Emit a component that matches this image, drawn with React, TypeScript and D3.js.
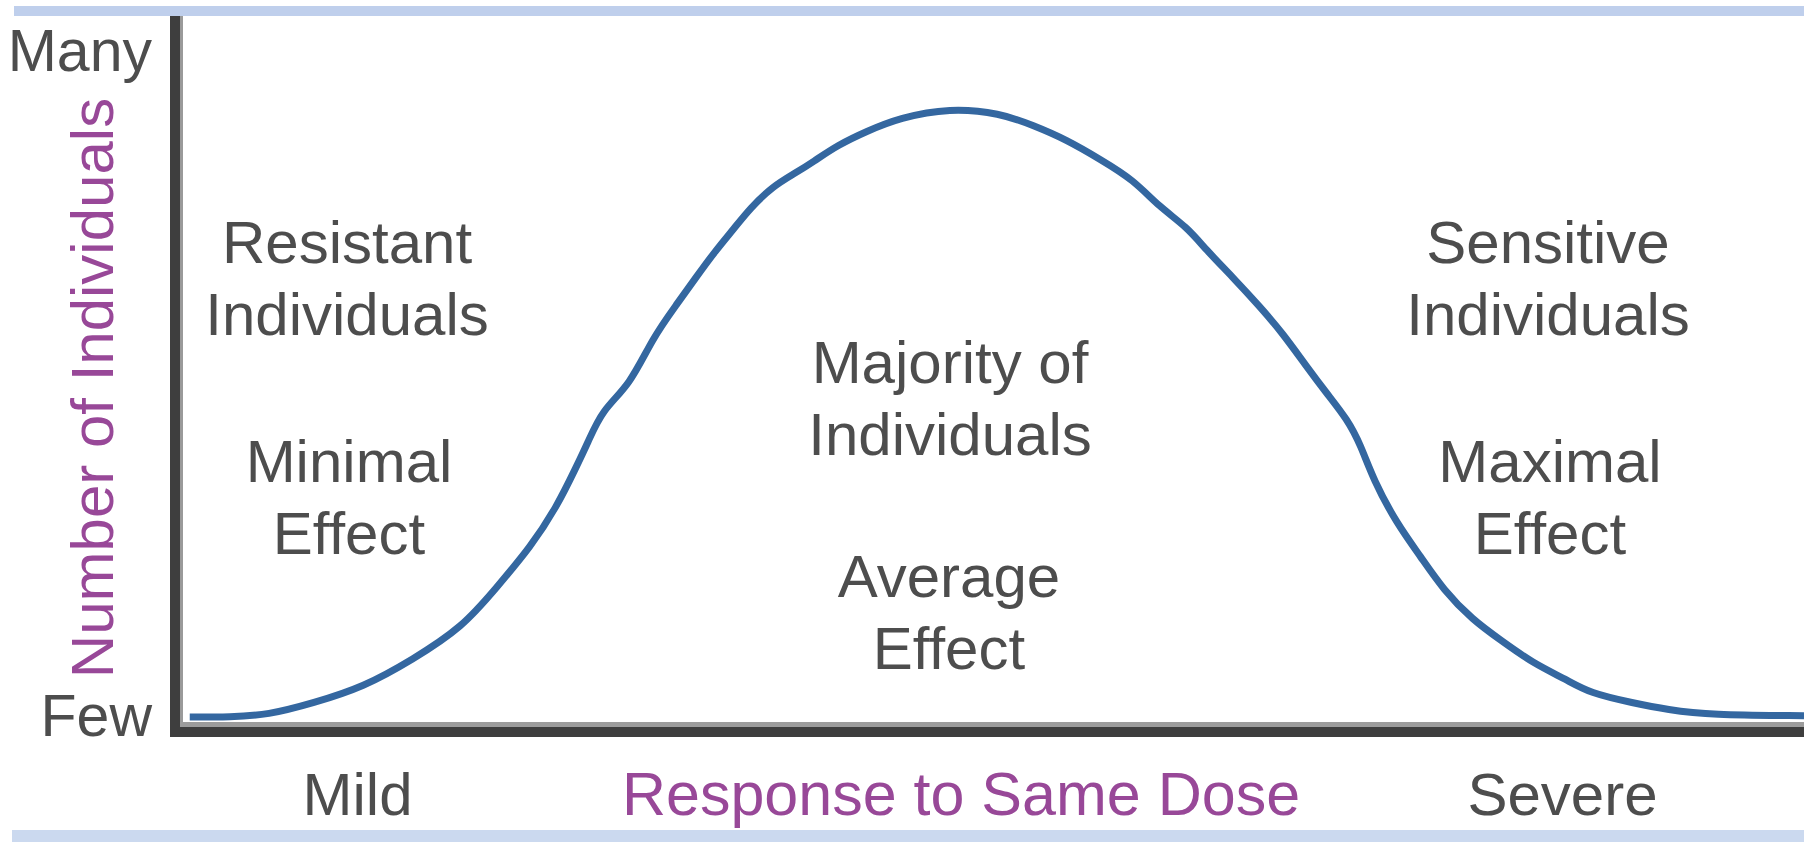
import { useEffect, useRef } from 'react';
import { select, scaleLinear, line, curveBasis, axisLeft, axisBottom } from 'd3';

// Response to dose (0 = mild, 100 = severe) vs number of individuals (0 = few, 100 = many)
const responseX = [
  0.6, 3.1, 5.4, 8.2, 11.3, 14.3, 17.4, 19.5, 21.6, 23.2, 24.4, 25.1, 26.0, 27.7, 29.1,
  30.6, 31.8, 33.0, 34.1, 35.1, 36.5, 37.9, 39.0, 40.5, 42.3, 44.3, 47.4, 50.5, 52.5, 54.6,
  56.7, 58.7, 60.3, 62.0, 63.2, 64.8, 66.5, 67.9, 69.4, 70.6, 71.9, 72.7, 73.5, 74.9,
  76.4, 77.8, 79.6, 81.3, 83.3, 85.4, 86.8, 89.5, 91.6, 94.2, 100,
];
const individualsY = [
  0, 0, 0.3, 2.1, 4.5, 8.6, 13.5, 19.5, 25.6, 31.6, 37.6, 41.2, 46.2, 49.9, 57.0,
  62.1, 66.2, 70.2, 73.4, 76.5, 79.8, 81.8, 83.5, 86.0, 88.1, 90.1, 91.6, 90.8, 89.0, 86.8,
  83.8, 80.8, 76.7, 73.7, 70.2, 66.2, 61.7, 57.7, 52.6, 48.7, 44.7, 40.9, 35.6, 29.2,
  24.1, 19.1, 14.6, 11.6, 8.1, 5.6, 3.6, 2.1, 1.1, 0.3, 0.2,
];

const yTickValues = [0, 100];
const yTickLabels = ['Few', 'Many'];
const xTickValues = [10.9, 85.1];
const xTickLabels = ['Mild', 'Severe'];

const annotations = [
  { lines: ['Resistant', 'Individuals'], x: 347, y: 263 },
  { lines: ['Minimal', 'Effect'], x: 349, y: 482 },
  { lines: ['Majority of', 'Individuals'], x: 950, y: 383 },
  { lines: ['Average', 'Effect'], x: 949, y: 597 },
  { lines: ['Sensitive', 'Individuals'], x: 1548, y: 263 },
  { lines: ['Maximal', 'Effect'], x: 1550, y: 482 },
];

const FONT = '"Liberation Sans", Arial, sans-serif';
const GRAY_TEXT = '#4d4d4d';
const PURPLE = '#984898';

export default function App() {
  const svgRef = useRef<SVGSVGElement>(null);

  useEffect(() => {
    if (!svgRef.current) return;
    const width = 1804;
    const height = 842;
    const svg = select(svgRef.current).attr('width', width).attr('height', height);
    svg.selectAll('*').remove();

    svg.append('rect').attr('width', width).attr('height', height).attr('fill', '#ffffff');

    // light blue frame bands
    svg.append('rect').attr('x', 14).attr('y', 6).attr('width', width - 14).attr('height', 10).attr('fill', '#bfcfec');
    svg.append('rect').attr('x', 12).attr('y', 830).attr('width', width - 12).attr('height', 12).attr('fill', '#cbd9ef');

    const axisX = 175;
    const axisY = 732;

    const xScale = scaleLinear().domain([0, 100]).range([180, width]);
    const yScale = scaleLinear().domain([0, 100]).range([717, 52]);

    // curve
    const data = responseX.map((x, i) => ({ x, y: individualsY[i] }));
    const path = line<{ x: number; y: number }>()
      .x((d) => xScale(d.x))
      .y((d) => yScale(d.y))
      .curve(curveBasis);

    svg.append('path')
      .datum(data)
      .attr('d', path)
      .attr('fill', 'none')
      .attr('stroke', '#3467a0')
      .attr('stroke-width', 7)
      .attr('stroke-linejoin', 'round');

    // axis lines (dark core with a grey edge)
    svg.append('line')
      .attr('x1', axisX + 6.5).attr('x2', axisX + 6.5)
      .attr('y1', 16).attr('y2', axisY)
      .attr('stroke', '#9a9a9a').attr('stroke-width', 3);
    svg.append('line')
      .attr('x1', axisX + 5).attr('x2', width)
      .attr('y1', axisY - 7.5).attr('y2', axisY - 7.5)
      .attr('stroke', '#9c9c9c').attr('stroke-width', 5);
    svg.append('line')
      .attr('x1', axisX).attr('x2', axisX)
      .attr('y1', 16).attr('y2', axisY + 5)
      .attr('stroke', '#3e3e3e').attr('stroke-width', 10);
    svg.append('line')
      .attr('x1', axisX - 5).attr('x2', width)
      .attr('y1', axisY).attr('y2', axisY)
      .attr('stroke', '#3e3e3e').attr('stroke-width', 10);

    // Y axis ticks: Few / Many
    const yAxis = axisLeft(yScale)
      .tickValues(yTickValues)
      .tickSize(0)
      .tickPadding(23)
      .tickFormat((_, i) => yTickLabels[i]);
    const gy = svg.append('g').attr('transform', `translate(${axisX},0)`).call(yAxis);
    gy.select('.domain').remove();
    gy.selectAll('text')
      .attr('dy', '0.31em')
      .attr('fill', GRAY_TEXT)
      .style('font-family', FONT)
      .style('font-size', '59px');

    // X axis ticks: Mild / Severe
    const xAxis = axisBottom(xScale)
      .tickValues(xTickValues)
      .tickSize(0)
      .tickPadding(40)
      .tickFormat((_, i) => xTickLabels[i]);
    const gx = svg.append('g').attr('transform', `translate(0,${axisY})`).call(xAxis);
    gx.select('.domain').remove();
    gx.selectAll('text')
      .attr('fill', GRAY_TEXT)
      .style('font-family', FONT)
      .style('font-size', '60px');

    // axis titles
    svg.append('text')
      .attr('x', 961)
      .attr('y', 815)
      .attr('text-anchor', 'middle')
      .attr('fill', PURPLE)
      .style('font-family', FONT)
      .style('font-size', '61px')
      .text('Response to Same Dose');

    svg.append('text')
      .attr('transform', 'translate(113,388) rotate(-90)')
      .attr('text-anchor', 'middle')
      .attr('fill', PURPLE)
      .style('font-family', FONT)
      .style('font-size', '60px')
      .text('Number of Individuals');

    // annotations
    annotations.forEach((a) => {
      const t = svg.append('text')
        .attr('text-anchor', 'middle')
        .attr('fill', GRAY_TEXT)
        .style('font-family', FONT)
        .style('font-size', '60px');
      a.lines.forEach((l, i) => {
        t.append('tspan').attr('x', a.x).attr('y', a.y + i * 72).text(l);
      });
    });
  }, []);

  return (
    <div style={{ position: 'absolute', left: 0, top: 0 }}>
      <svg ref={svgRef} style={{ display: 'block' }} />
    </div>
  );
}
